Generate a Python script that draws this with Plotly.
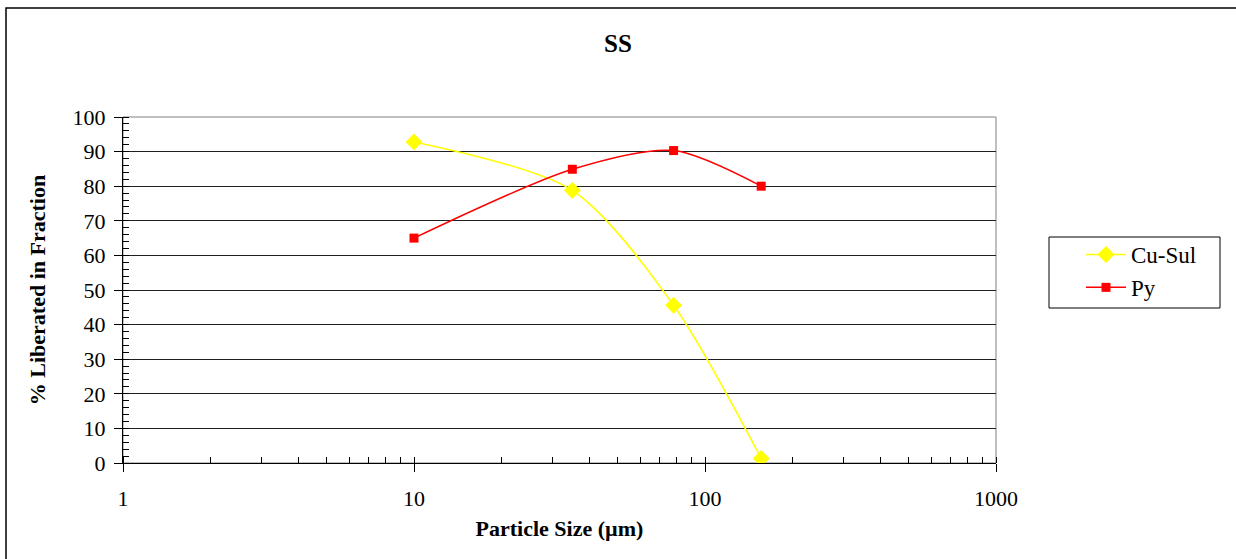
import plotly.graph_objects as go

# Data
particle_size = [10, 35, 78, 156]
cu_sul = [92.8, 78.8, 45.6, 1.3]
py = [65.0, 84.9, 90.3, 80.0]

FONT = "Liberation Serif"

fig = go.Figure()
fig.add_trace(go.Scatter(
    x=particle_size, y=cu_sul, name="Cu-Sul", mode="lines+markers",
    line=dict(color="#FFFF00", width=1.5, shape="spline", smoothing=0.8),
    marker=dict(symbol="diamond", size=13, color="#FFFF00"),
))
fig.add_trace(go.Scatter(
    x=particle_size, y=py, name="Py", mode="lines+markers",
    line=dict(color="#FF0000", width=1.5, shape="spline", smoothing=0.8),
    marker=dict(symbol="square", size=9, color="#FF0000"),
))

W, H = 1236, 559
L, R, T, B = 123, 240, 117, 96
pw, ph = W - L - R, H - T - B

def px(xp):
    return (xp - L) / pw

def py_(yp):
    return (H - B - yp) / ph

fig.update_layout(
    width=W, height=H,
    margin=dict(l=L, r=R, t=T, b=B, pad=0),
    paper_bgcolor="white", plot_bgcolor="white",
    font=dict(family=FONT, color="black", size=22),
    title=dict(text="<b>SS</b>", x=0.5, xref="container", xanchor="center",
               y=1 - 43 / H, yref="container", yanchor="middle",
               font=dict(family=FONT, size=25, color="black")),
    showlegend=True,
    legend=dict(x=px(1081), y=py_(233), xanchor="left", yanchor="top",
                borderwidth=0, bgcolor="rgba(0,0,0,0)",
                font=dict(family=FONT, size=23, color="black"),
                itemwidth=40, tracegroupgap=4),
    shapes=[
        dict(type="rect", xref="paper", yref="paper", x0=0, x1=1, y0=0, y1=1,
             line=dict(color="#808080", width=1), layer="below"),
        dict(type="rect", xref="paper", yref="paper",
             x0=px(6), x1=px(1245), y0=py_(570), y1=py_(8),
             line=dict(color="black", width=1.5)),
        dict(type="rect", xref="paper", yref="paper",
             x0=px(1049), x1=px(1220), y0=py_(308), y1=py_(237),
             line=dict(color="black", width=1), fillcolor="white", layer="below"),
    ],
)

fig.update_xaxes(
    type="log", range=[0, 3], dtick=1,
    tickvals=[1, 10, 100, 1000], ticktext=["1", "10", "100", "1000"],
    showgrid=False, zeroline=False,
    showline=True, linecolor="black", linewidth=1,
    ticks="outside", ticklen=8, tickcolor="black",
    ticklabelstandoff=8,
    minor=dict(ticks="inside", ticklen=6, tickcolor="black", dtick="D1", showgrid=False),
    tickfont=dict(family=FONT, size=22),
    title=dict(text="<b>Particle Size (µm)</b>", standoff=10,
               font=dict(family=FONT, size=22)),
)
fig.update_yaxes(
    range=[0, 100], dtick=10,
    showgrid=True, gridcolor="#202020", gridwidth=1,
    zeroline=False,
    showline=True, linecolor="black", linewidth=1,
    ticks="outside", ticklen=8, tickcolor="black",
    ticklabelstandoff=4,
    minor=dict(ticks="inside", ticklen=6, tickcolor="black", dtick=2, showgrid=False),
    tickfont=dict(family=FONT, size=22),
    title=dict(text="<b>% Liberated in Fraction</b>", standoff=20,
               font=dict(family=FONT, size=22)),
)

fig.write_html("out.html", config={"displayModeBar": False},
               post_script="document.body.style.margin='0px';document.body.style.overflow='hidden';")
